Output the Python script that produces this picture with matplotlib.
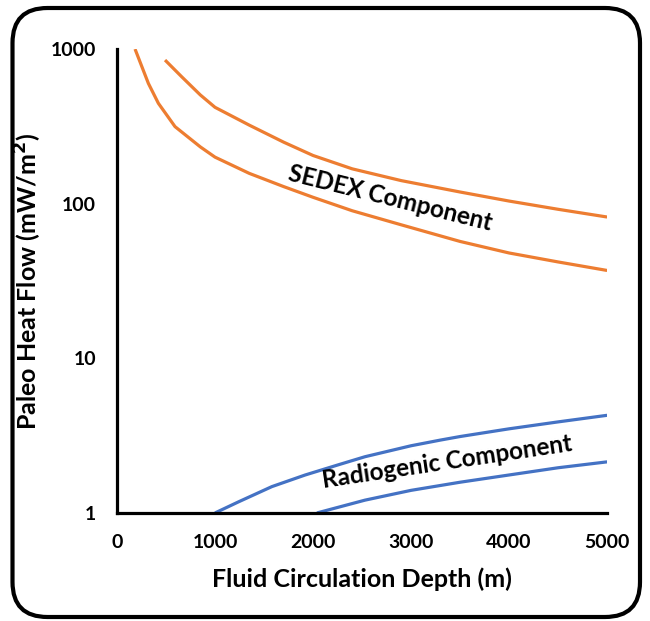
"""Paleo heat flow vs fluid circulation depth (SEDEX / radiogenic components)."""

import matplotlib
matplotlib.use('Agg')
import matplotlib.pyplot as plt
from matplotlib.patches import FancyBboxPatch

ORANGE = '#ED7D31'
BLUE = '#4472C4'

# SEDEX component, upper and lower bound (mW/m2)
sedex_hi_depth = [490, 660, 850, 1000, 1350, 1700, 2000, 2400, 2900, 3500, 4000, 4500, 5000]
sedex_hi_flow = [849, 662, 505, 420, 322, 250, 205, 168, 141, 119, 104, 92, 82]
sedex_lo_depth = [184, 320, 422, 592, 850, 1000, 1350, 1700, 2000, 2400, 2900, 3500, 4000, 4500, 5000]
sedex_lo_flow = [1000, 600, 446, 315, 233, 200, 157, 129, 110, 90, 73, 57, 48, 42, 37]

# radiogenic component, upper and lower bound
radio_hi_depth = [1000, 1240, 1580, 1920, 2260, 2530, 3000, 3300, 3500, 4000, 4500, 5000]
radio_hi_flow = [1.0, 1.18, 1.48, 1.76, 2.05, 2.31, 2.72, 2.96, 3.12, 3.5, 3.88, 4.28]
radio_lo_depth = [2040, 2530, 3000, 3500, 4000, 4500, 5000]
radio_lo_flow = [1.0, 1.21, 1.40, 1.58, 1.76, 1.96, 2.14]

x_ticks = [0, 1000, 2000, 3000, 4000, 5000]
y_ticks = [1, 10, 100, 1000]

FONT = ['Lato', 'DejaVu Sans']
plt.rcParams['font.family'] = FONT
plt.rcParams['font.weight'] = 'bold'

fig = plt.figure(figsize=(6.5, 6.21), dpi=100)
ax = fig.add_axes([0.18, 0.174, 0.754, 0.747])

for xs, ys, col in [(sedex_hi_depth, sedex_hi_flow, ORANGE),
                    (sedex_lo_depth, sedex_lo_flow, ORANGE),
                    (radio_hi_depth, radio_hi_flow, BLUE),
                    (radio_lo_depth, radio_lo_flow, BLUE)]:
    ax.plot(xs, ys, color=col, linewidth=2.3, solid_capstyle='butt',
            solid_joinstyle='round')

ax.set_yscale('log')
ax.set_xlim(0, 5000)
ax.set_ylim(1, 1000)
ax.set_xticks(x_ticks)
ax.set_xticklabels([str(t) for t in x_ticks])
ax.set_yticks(y_ticks)
ax.set_yticklabels([str(t) for t in y_ticks])
ax.minorticks_off()
ax.tick_params(length=0, pad=15, labelsize=14)
for lbl in ax.get_xticklabels() + ax.get_yticklabels():
    lbl.set_fontweight('bold')

for side in ['top', 'right']:
    ax.spines[side].set_visible(False)
for side in ['left', 'bottom']:
    ax.spines[side].set_linewidth(2.3)
    ax.spines[side].set_color('black')

ax.set_xlabel('Fluid Circulation Depth (m)', fontsize=18, fontweight='bold')
ax.set_ylabel('Paleo Heat Flow (mW/m$^\\mathbf{2}$)', fontsize=18, fontweight='bold')
ax.xaxis.set_label_coords(0.5, -0.118)
ax.yaxis.set_label_coords(-0.148, 0.5)

ax.text(2790, 109, 'SEDEX Component', rotation=-14, ha='center', va='center',
        fontsize=17.5, fontweight='bold', rotation_mode='anchor')
ax.text(3370, 2.14, 'Radiogenic Component', rotation=8.5, ha='center', va='center',
        fontsize=17.5, fontweight='bold', rotation_mode='anchor')

# rounded frame around the whole picture
frame = FancyBboxPatch((0.125, 0.04), 6.275, 6.09,
                       boxstyle='round,pad=0,rounding_size=0.35',
                       transform=fig.dpi_scale_trans, fill=False,
                       edgecolor='black', linewidth=3)
fig.patches.append(frame)

fig.savefig('out.png', dpi=100)
